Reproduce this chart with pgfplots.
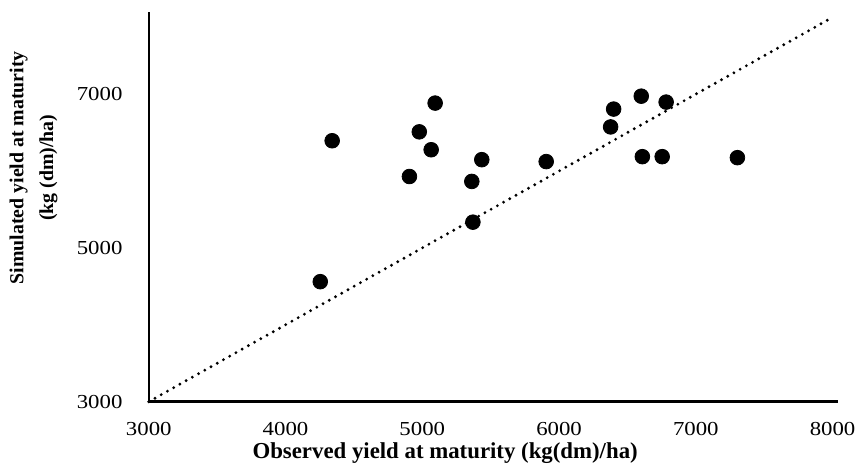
\documentclass[border=0pt]{standalone}
\usepackage{fontspec}
\setmainfont{Liberation Serif}
\usepackage{pgfplots}
\pgfplotsset{compat=1.18}
\begin{document}
\begin{tikzpicture}
\begin{axis}[
  name=ax,
  scale only axis,
  width=347.5pt, height=196.5pt,
  xmin=3000, xmax=8040, ymin=3000, ymax=8070,
  axis x line*=bottom, axis y line*=left,
  axis line style={line width=1.2pt},
  xtick={3000,4000,5000,6000,7000,8000},
  ytick={3000,5000,7000},
  major tick length=0pt,
  /pgf/number format/assume math mode=true,
  /pgf/number format/1000 sep={},
  tick label style={font=\fontsize{10}{12}\selectfont, xscale=1.15},
  xticklabel style={yshift=-7pt},
  yticklabel style={xshift=-8pt},
  xlabel={Observed yield at maturity (kg(dm)/ha)},
  xlabel style={at={(axis description cs:0.43,0)}, anchor=center, yshift=-26pt, font=\bfseries\fontsize{11.5}{13}\selectfont},
  ylabel={Simulated yield at maturity\\(kg (dm)/ha)},
  ylabel style={at={(axis description cs:-0.167,0.6)}, anchor=center, align=center, font=\bfseries\fontsize{10}{15}\selectfont},
  clip=false,
]
\addplot[black, line width=1.6pt, line cap=round, dash pattern=on 0pt off 3.6pt] coordinates {(3000,3000) (8000,8000)};
\addplot[only marks, mark=*, mark size=3.7pt, black] coordinates {
(4341,6394) (4254,4561) (4906,5929) (4978,6510) (5065,6277) (5094,6884)
(5362,5865) (5370,5335) (5435,6148) (5906,6123) (6377,6574) (6399,6806)
(6601,6974) (6609,6187) (6754,6187) (6783,6897) (7304,6174)
};
\end{axis}
\path[use as bounding box] (ax.south west) ++(-75pt,-32.5pt) rectangle ++(431.5pt,235pt);
\end{tikzpicture}
\end{document}
